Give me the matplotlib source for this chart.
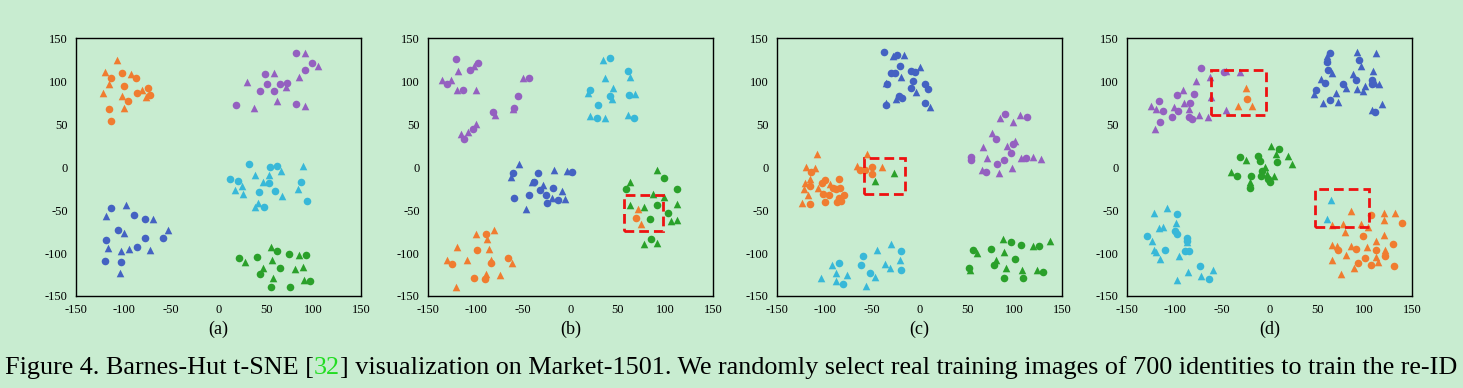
import matplotlib.pyplot as plt
from matplotlib.patches import Rectangle

# colours
bg = '#c8ecd0'
c_orange = '#f07c30'
c_purple = '#9460c0'
c_cyan = '#38b8d8'
c_blue = '#4462c2'
c_green = '#2aa02a'

# points: (x, y, kind) with kind 'o' circle, '^' triangle
# panel (a)
a_orange = [(-107, 125, '^'), (-119, 110, '^'), (-113, 104, 'o'), (-102, 109, 'o'), (-92, 108, '^'),
            (-87, 103, 'o'), (-115, 96, '^'), (-100, 94, 'o'), (-122, 86, '^'), (-102, 83, '^'),
            (-86, 86, 'o'), (-81, 89, '^'), (-74, 92, 'o'), (-72, 84, 'o'), (-76, 81, '^'),
            (-95, 77, 'o'), (-115, 68, 'o'), (-100, 69, '^'), (-113, 53, 'o')]
a_purple = [(82, 133, 'o'), (91, 133, '^'), (98, 121, 'o'), (105, 117, '^'), (91, 113, 'o'),
            (49, 108, 'o'), (58, 109, '^'), (85, 105, '^'), (30, 99, '^'), (51, 96, 'o'),
            (65, 97, 'o'), (72, 98, 'o'), (71, 93, '^'), (44, 88, 'o'), (58, 88, 'o'),
            (62, 77, '^'), (18, 72, 'o'), (37, 69, '^'), (82, 73, 'o'), (91, 71, '^')]
a_cyan = [(32, 3, 'o'), (54, 0, 'o'), (62, 1, 'o'), (89, 1, '^'), (66, -5, '^'), (38, -9, '^'),
          (53, -9, '^'), (12, -14, 'o'), (21, -16, 'o'), (47, -17, '^'), (53, -19, 'o'),
          (25, -22, '^'), (87, -18, 'o'), (17, -27, '^'), (26, -31, '^'), (43, -29, 'o'),
          (59, -28, 'o'), (84, -25, '^'), (67, -34, '^'), (42, -42, '^'), (38, -46, '^'),
          (48, -47, 'o'), (93, -40, 'o')]
a_blue = [(-97, -44, '^'), (-113, -48, 'o'), (-118, -57, '^'), (-89, -56, 'o'), (-77, -61, 'o'),
          (-69, -60, '^'), (-106, -73, 'o'), (-100, -77, '^'), (-53, -73, '^'), (-118, -85, 'o'),
          (-77, -82, 'o'), (-58, -82, 'o'), (-116, -94, '^'), (-86, -93, 'o'), (-103, -98, '^'),
          (-94, -95, '^'), (-72, -96, '^'), (-120, -109, 'o'), (-103, -110, 'o'), (-104, -123, '^')]
a_green = [(55, -93, '^'), (62, -98, 'o'), (22, -106, 'o'), (28, -110, '^'), (41, -105, 'o'),
           (56, -108, '^'), (74, -101, 'o'), (85, -102, '^'), (92, -102, 'o'), (47, -117, '^'),
           (65, -117, 'o'), (89, -116, '^'), (81, -119, '^'), (44, -124, 'o'), (57, -129, '^'),
           (90, -131, '^'), (96, -132, 'o'), (55, -139, 'o'), (75, -139, 'o')]

# panel (b)
b_purple = [(-121, 126, 'o'), (-118, 112, '^'), (-106, 113, 'o'), (-102, 118, '^'), (-97, 121, 'o'),
            (-135, 101, '^'), (-126, 101, '^'), (-130, 96, 'o'), (-119, 90, '^'), (-113, 90, 'o'),
            (-99, 89, '^'), (-50, 104, '^'), (-44, 104, 'o'), (-55, 82, 'o'), (-59, 69, 'o'),
            (-61, 67, '^'), (-82, 64, 'o'), (-79, 61, '^'), (-99, 50, '^'), (-103, 44, 'o'),
            (-108, 41, '^'), (-115, 38, '^'), (-112, 32, 'o')]
b_cyan = [(34, 124, '^'), (42, 127, 'o'), (36, 103, '^'), (60, 112, 'o'), (63, 105, '^'),
          (45, 92, '^'), (21, 90, 'o'), (18, 86, '^'), (42, 82, 'o'), (44, 79, '^'), (62, 84, 'o'),
          (68, 85, '^'), (29, 72, 'o'), (20, 59, '^'), (28, 57, 'o'), (36, 57, '^'), (61, 60, '^'),
          (67, 57, 'o')]
b_blue = [(-54, 3, '^'), (-61, -7, 'o'), (-63, -12, '^'), (-34, -7, 'o'), (-17, -3, '^'),
          (-4, -5, '^'), (2, -6, 'o'), (-41, -18, '^'), (-38, -18, 'o'), (-29, -21, '^'),
          (-18, -24, 'o'), (-32, -27, 'o'), (-9, -28, '^'), (-44, -32, 'o'), (-26, -33, 'o'),
          (-20, -36, '^'), (-13, -38, 'o'), (-6, -37, '^'), (-25, -42, 'o'), (-59, -36, 'o'),
          (-47, -49, '^')]
b_green = [(91, -4, '^'), (98, -13, 'o'), (58, -25, 'o'), (63, -17, '^'), (112, -26, 'o'),
           (87, -31, '^'), (98, -35, '^'), (63, -44, '^'), (77, -47, '^'), (91, -44, 'o'),
           (112, -43, '^'), (103, -54, 'o'), (84, -61, 'o'), (106, -63, '^'), (112, -62, '^'),
           (85, -84, 'o'), (77, -90, '^'), (91, -88, '^')]
b_orange = [(71, -49, '^'), (69, -59, 'o'), (74, -66, '^'), (-81, -73, '^'), (-100, -78, '^'),
            (-89, -78, 'o'), (-88, -84, '^'), (-119, -93, '^'), (-98, -96, 'o'), (-86, -95, '^'),
            (-130, -108, '^'), (-109, -108, '^'), (-125, -113, 'o'), (-84, -112, 'o'),
            (-84, -108, '^'), (-66, -106, 'o'), (-62, -112, '^'), (-74, -125, '^'),
            (-89, -124, '^'), (-102, -129, 'o'), (-90, -130, 'o'), (-121, -140, '^')]

# panel (c)
c_blue_pts = [(-37, 134, 'o'), (-28, 129, '^'), (-24, 130, 'o'), (-16, 130, '^'), (-21, 117, 'o'),
              (0, 116, '^'), (-30, 109, 'o'), (-26, 109, 'o'), (-19, 105, '^'), (-9, 112, 'o'),
              (-5, 110, 'o'), (-7, 100, 'o'), (-35, 98, '^'), (-34, 96, 'o'), (6, 96, 'o'),
              (9, 91, 'o'), (-9, 92, 'o'), (-4, 87, '^'), (-22, 83, 'o'), (-25, 79, '^'),
              (-18, 80, 'o'), (-35, 72, 'o'), (-35, 75, '^'), (6, 75, 'o'), (11, 70, '^')]
c_purple_pts = [(85, 57, '^'), (90, 62, 'o'), (98, 52, '^'), (106, 61, '^'), (113, 58, 'o'),
                (76, 39, '^'), (81, 33, 'o'), (101, 30, '^'), (98, 27, 'o'), (92, 24, '^'),
                (96, 16, 'o'), (67, 23, '^'), (54, 12, 'o'), (54, 8, 'o'), (71, 11, '^'),
                (89, 8, 'o'), (82, 3, 'o'), (107, 11, '^'), (112, 10, 'o'), (119, 12, '^'),
                (128, 9, '^'), (97, -1, '^'), (66, -3, '^'), (70, -6, 'o'), (84, -7, '^')]
c_orange_pts = [(-108, 15, '^'), (-119, 0, '^'), (-110, -1, '^'), (-114, -6, 'o'), (-121, -19, '^'),
                (-115, -14, '^'), (-100, -15, 'o'), (-103, -19, 'o'), (-94, -20, '^'), (-85, -14, 'o'),
                (-115, -22, 'o'), (-107, -24, '^'), (-91, -24, 'o'), (-122, -25, '^'), (-88, -26, 'o'),
                (-84, -24, 'o'), (-117, -32, '^'), (-102, -31, 'o'), (-95, -33, 'o'), (-80, -32, 'o'),
                (-85, -36, 'o'), (-124, -42, '^'), (-115, -43, 'o'), (-100, -41, 'o'), (-87, -41, 'o'),
                (-83, -39, 'o'), (-55, 15, '^'), (-66, 1, '^'), (-63, -3, 'o'), (-57, -4, 'o'),
                (-50, 0, 'o'), (-40, 0, '^'), (-50, -8, 'o')]
c_green_pts = [(-27, -7, '^'), (-47, -16, '^'), (88, -84, '^'), (96, -87, 'o'), (137, -86, '^'),
               (56, -96, 'o'), (75, -95, 'o'), (61, -100, '^'), (89, -99, '^'), (107, -91, 'o'),
               (119, -92, '^'), (126, -92, 'o'), (100, -107, 'o'), (81, -108, '^'), (78, -114, 'o'),
               (91, -117, '^'), (52, -118, 'o'), (53, -120, '^'), (108, -120, '^'), (124, -120, '^'),
               (130, -122, 'o'), (89, -129, 'o'), (109, -129, 'o')]
c_cyan_pts = [(-30, -90, '^'), (-45, -96, '^'), (-20, -98, 'o'), (-60, -103, 'o'), (-21, -108, '^'),
              (-92, -114, '^'), (-85, -112, 'o'), (-62, -114, 'o'), (-36, -113, '^'), (-31, -118, '^'),
              (-20, -120, 'o'), (-52, -123, 'o'), (-88, -123, '^'), (-76, -126, '^'), (-47, -128, '^'),
              (-104, -129, '^'), (-88, -132, '^'), (-81, -136, 'o'), (-56, -138, '^')]

# panel (d)
d_blue = [(64, 133, 'o'), (61, 129, '^'), (92, 134, '^'), (112, 133, '^'), (94, 125, 'o'),
          (61, 122, 'o'), (60, 124, '^'), (62, 113, 'o'), (66, 109, '^'), (96, 117, '^'),
          (109, 112, '^'), (88, 108, '^'), (54, 102, '^'), (58, 98, 'o'), (91, 101, 'o'),
          (108, 101, 'o'), (77, 97, 'o'), (108, 97, 'o'), (111, 98, '^'), (115, 96, '^'),
          (81, 92, '^'), (92, 91, '^'), (101, 94, '^'), (49, 90, 'o'), (98, 88, '^'), (47, 85, '^'),
          (70, 86, '^'), (64, 78, 'o'), (56, 74, '^'), (72, 76, '^'), (118, 73, '^'), (111, 64, 'o'),
          (108, 66, '^')]
d_purple = [(-72, 115, 'o'), (-46, 112, '^'), (-48, 110, 'o'), (-31, 110, '^'), (-63, 105, '^'),
            (-77, 100, '^'), (-91, 90, '^'), (-97, 84, 'o'), (-80, 85, 'o'), (-62, 81, '^'),
            (-125, 71, '^'), (-116, 77, 'o'), (-120, 67, '^'), (-112, 65, 'o'), (-84, 75, 'o'),
            (-90, 75, '^'), (-101, 70, '^'), (-96, 65, 'o'), (-85, 67, '^'), (-103, 58, 'o'),
            (-115, 52, 'o'), (-74, 61, '^'), (-85, 58, 'o'), (-82, 56, 'o'), (-65, 58, '^'),
            (-46, 66, '^'), (-121, 44, '^')]
d_green = [(2, 25, '^'), (10, 21, 'o'), (7, 15, '^'), (19, 13, '^'), (24, 3, '^'), (-31, 12, 'o'),
           (-25, 8, '^'), (-12, 13, 'o'), (-10, 7, 'o'), (8, 6, 'o'), (-5, 0, '^'), (-41, -6, '^'),
           (-34, -10, 'o'), (-19, -10, 'o'), (-8, -5, 'o'), (-9, -11, 'o'), (-3, -8, '^'),
           (5, -11, '^'), (-2, -14, 'o'), (-21, -17, '^'), (0, -17, 'o'), (-21, -24, 'o')]
d_cyan = [(65, -38, '^'), (60, -60, '^'), (-108, -48, '^'), (-122, -53, '^'), (-97, -55, 'o'),
          (-98, -65, '^'), (-129, -80, 'o'), (-124, -86, '^'), (-116, -71, '^'), (-112, -70, '^'),
          (-100, -74, 'o'), (-97, -78, 'o'), (-87, -82, 'o'), (-87, -87, '^'), (-87, -86, 'o'),
          (-122, -96, '^'), (-110, -96, 'o'), (-119, -99, '^'), (-89, -98, 'o'), (-85, -98, 'o'),
          (-95, -103, '^'), (-115, -107, '^'), (-73, -115, 'o'), (-86, -122, '^'), (-60, -120, '^'),
          (-72, -127, '^'), (-64, -130, 'o'), (-97, -131, '^')]
d_orange = [(-25, 92, '^'), (-24, 79, 'o'), (-33, 71, '^'), (-18, 71, '^'),
            (86, -51, '^'), (66, -67, '^'), (77, -66, '^'), (96, -66, '^'), (104, -70, '^'),
            (107, -56, 'o'), (120, -54, '^'), (132, -54, '^'), (139, -65, 'o'), (121, -62, '^'),
            (98, -80, 'o'), (79, -76, '^'), (120, -79, '^'), (112, -86, '^'), (130, -89, 'o'),
            (66, -91, '^'), (71, -92, '^'), (72, -96, 'o'), (86, -92, '^'), (91, -95, 'o'),
            (103, -93, '^'), (112, -96, 'o'), (122, -97, '^'), (80, -102, '^'), (122, -104, 'o'),
            (112, -105, '^'), (114, -110, '^'), (101, -106, 'o'), (66, -108, '^'), (93, -112, 'o'),
            (107, -114, 'o'), (89, -117, '^'), (131, -115, 'o'), (75, -124, '^')]

# red dashed boxes: (x0, y0, x1, y1)
b_boxes = [(56, -74, 97, -33)]
c_boxes = [(-58, -31, -15, 11)]
d_boxes = [(-62, 60, -4, 113), (48, -70, 105, -26)]

panels = [
    ('(a)', [(a_orange, c_orange), (a_purple, c_purple), (a_cyan, c_cyan), (a_blue, c_blue), (a_green, c_green)], []),
    ('(b)', [(b_purple, c_purple), (b_cyan, c_cyan), (b_blue, c_blue), (b_green, c_green), (b_orange, c_orange)], b_boxes),
    ('(c)', [(c_blue_pts, c_blue), (c_purple_pts, c_purple), (c_orange_pts, c_orange), (c_cyan_pts, c_cyan), (c_green_pts, c_green)], c_boxes),
    ('(d)', [(d_blue, c_blue), (d_purple, c_purple), (d_green, c_green), (d_cyan, c_cyan), (d_orange, c_orange)], d_boxes),
]

plt.rcParams['font.family'] = ['Liberation Serif', 'DejaVu Serif']
plt.rcParams['axes.unicode_minus'] = False

fig = plt.figure(figsize=(14.63, 3.88), dpi=100, facecolor=bg)
lefts = [76, 428, 777, 1127]
for (label, groups, boxes), lp in zip(panels, lefts):
    ax = fig.add_axes([lp / 1463, 92 / 388, 285 / 1463, 258 / 388])
    ax.set_facecolor(bg)
    for pts, col in groups:
        for kind in ['o', '^']:
            xs = [p[0] for p in pts if p[2] == kind]
            ys = [p[1] for p in pts if p[2] == kind]
            ax.scatter(xs, ys, s=30, c=col, marker=kind, linewidths=0, zorder=3)
    for x0, y0, x1, y1 in boxes:
        ax.add_patch(Rectangle((x0, y0), x1 - x0, y1 - y0, fill=False, ec='#ee1111',
                               lw=2.0, ls=(0, (3.5, 1.8)), zorder=4))
    ax.set_xlim(-150, 150)
    ax.set_ylim(-150, 150)
    ax.set_xticks(range(-150, 151, 50))
    ax.set_yticks(range(-150, 151, 50))
    ax.tick_params(length=0, labelsize=9, pad=6)
    for sp in ax.spines.values():
        sp.set_linewidth(1.0)
    ax.set_xlabel(label, fontsize=13, labelpad=3)

# caption with the green reference number
cap_y = 0.035
cap_fs = 18.8
t1 = fig.text(5 / 1463, cap_y, 'Figure 4. Barnes-Hut t-SNE [', fontsize=cap_fs, va='baseline')
t2 = fig.text(0, cap_y, '32', fontsize=cap_fs, color='#22dd22', va='baseline')
t3 = fig.text(0, cap_y, '] visualization on Market-1501. We randomly select real training images '
              'of 700 identities to train the re-ID', fontsize=cap_fs, va='baseline')
fig.canvas.draw()
r = fig.canvas.get_renderer()
e1 = t1.get_window_extent(r)
t2.set_position((e1.x1 / 1463, cap_y))
fig.canvas.draw()
e2 = t2.get_window_extent(r)
t3.set_position((e2.x1 / 1463, cap_y))

fig.savefig('out.png', dpi=100, facecolor=bg)
